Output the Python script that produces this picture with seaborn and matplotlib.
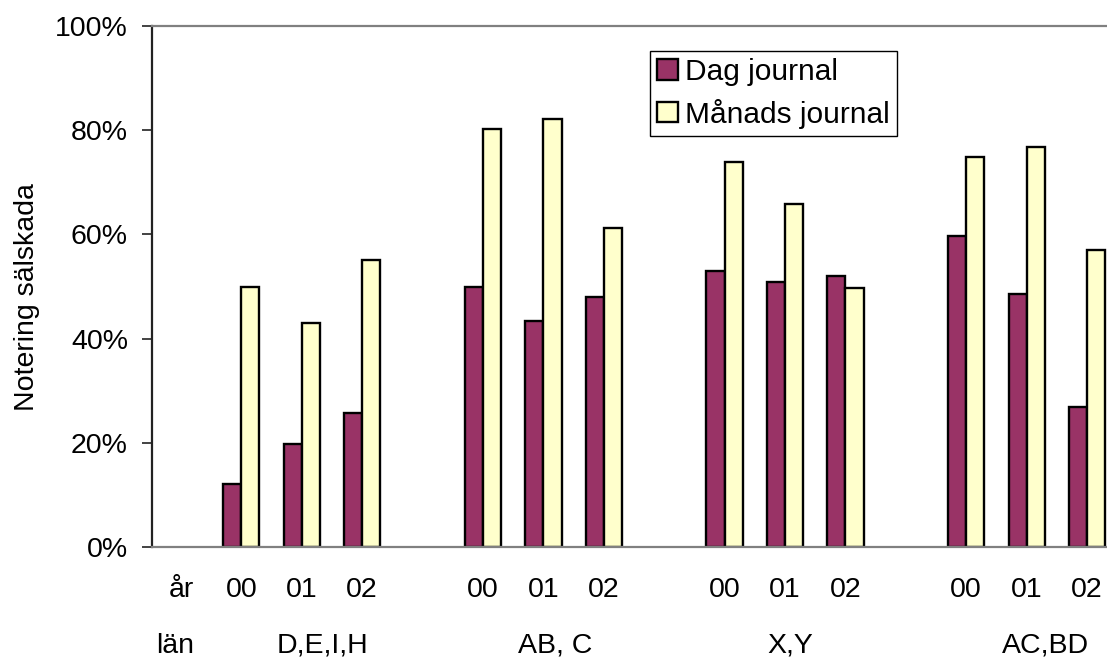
import matplotlib
matplotlib.use("Agg")
import numpy as np
import pandas as pd
import matplotlib.pyplot as plt
import seaborn as sns
from matplotlib.ticker import PercentFormatter
import matplotlib.transforms as mtransforms

# ---- data ----
groups = ["D,E,I,H", "AB, C", "X,Y", "AC,BD"]
years = ["00", "01", "02"]
series = ["Dag journal", "Månads journal"]
dag = [12.0, 19.7, 25.6, 50.0, 43.4, 47.9, 53.0, 50.9, 52.0, 59.8, 48.5, 26.8]
manad = [50.0, 43.0, 55.0, 80.3, 82.1, 61.2, 74.0, 65.9, 49.8, 74.9, 76.9, 57.1]
row_label_year = "år"
row_label_lan = "län"
colors = ["#993366", "#FFFFCC"]

# ---- build long table ----
rows = []
order = ["__year"]
ticklabels = [row_label_year]
k = 0
for gi, g in enumerate(groups):
    if gi > 0:
        order.append(f"__gap{gi}")
        ticklabels.append("")
    for y in years:
        slot = f"{g}|{y}"
        order.append(slot)
        ticklabels.append(y)
        rows.append({"slot": slot, "serie": series[0], "value": dag[k] / 100})
        rows.append({"slot": slot, "serie": series[1], "value": manad[k] / 100})
        k += 1
df = pd.DataFrame(rows)

sns.set_style("white")
plt.rcParams["font.family"] = ["Liberation Sans", "DejaVu Sans"]

FS = 20.5

fig = plt.figure(figsize=(11.07, 6.6), dpi=100)
ax = fig.add_axes([151.5 / 1107, (660 - 546.7) / 660, (1107 - 151.5) / 1107, 520.4 / 660])

sns.barplot(data=df, x="slot", y="value", hue="serie", order=order,
            hue_order=series, palette=colors, width=0.6, edgecolor="black",
            linewidth=1.7, errorbar=None, ax=ax, legend=True, saturation=1)

ax.set_xlim(-0.487, 15.33)
ax.set_ylim(0, 1)
ax.set_yticks(np.arange(0, 1.01, 0.2))
ax.yaxis.set_major_formatter(PercentFormatter(1.0, decimals=0))
ax.set_xticks(range(len(order)))
ax.set_xticklabels(ticklabels)
ax.tick_params(axis="x", length=0, pad=22, labelsize=FS, colors="black")
ax.tick_params(axis="y", length=7, width=1.2, direction="out", pad=10,
               labelsize=FS, color="#222222", labelcolor="black", left=True)
ax.set_xlabel("")
ax.set_ylabel("Notering sälskada", fontsize=FS, color="black")
ax.yaxis.set_label_coords(-0.1165, 0.48)

for side in ["top", "bottom"]:
    ax.spines[side].set_visible(True)
    ax.spines[side].set_color("#808080")
    ax.spines[side].set_linewidth(1.6)
ax.spines["left"].set_color("#222222")
ax.spines["left"].set_linewidth(1.6)
ax.spines["right"].set_visible(False)

# second row of category labels (län)
trans = mtransforms.blended_transform_factory(ax.transData, ax.transAxes)
lan_x = [-0.1, 2.35, 6.2, 10.08, 14.31]
for xx, txt in zip(lan_x, [row_label_lan] + groups):
    ax.text(xx, -0.2035, txt, transform=trans, ha="center", va="baseline",
            fontsize=FS, color="black", clip_on=False)

# legend
old = ax.get_legend()
handles = old.legend_handles
labels = [t.get_text() for t in old.get_texts()]
old.remove()
for h in handles:
    h.set_edgecolor("black")
    h.set_linewidth(1.7)
leg = ax.legend(handles, labels, loc="upper left",
                bbox_to_anchor=(650 / 1107, 1 - 50.7 / 660),
                bbox_transform=fig.transFigure, frameon=True, fancybox=False,
                edgecolor="black", framealpha=1, fontsize=21.5,
                handlelength=0.68, handleheight=0.68, handletextpad=0.25,
                labelspacing=0.42, borderpad=0.25, borderaxespad=0)
leg.get_frame().set_linewidth(1.0)
for t in leg.get_texts():
    t.set_color("black")

fig.savefig("out.png", dpi=100)
